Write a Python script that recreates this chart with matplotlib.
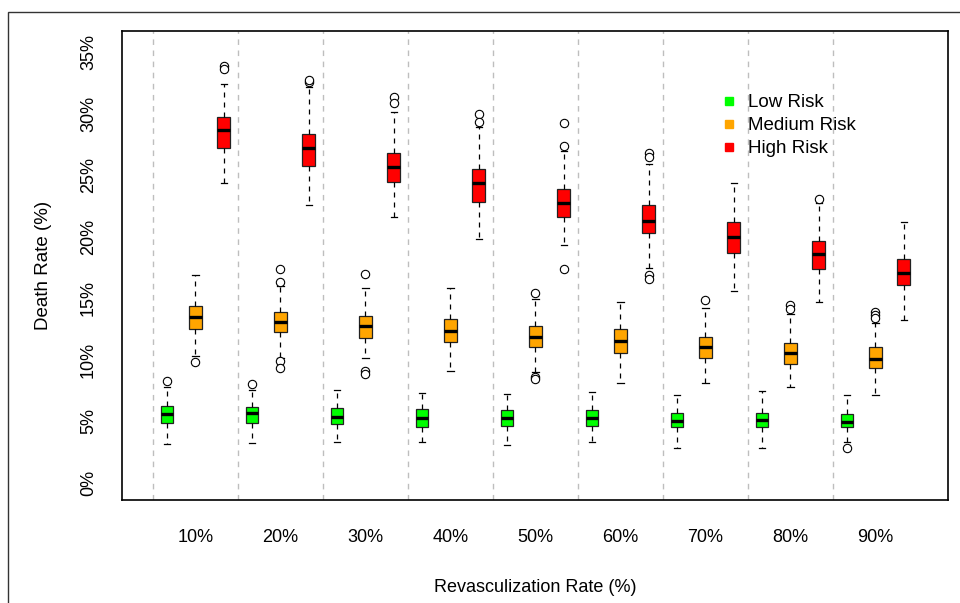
import matplotlib
matplotlib.use("Agg")
import matplotlib.pyplot as plt
from matplotlib.lines import Line2D
from matplotlib.patches import Rectangle

plt.rcParams['font.family'] = ['Liberation Sans', 'DejaVu Sans']

rates = ['10%', '20%', '30%', '40%', '50%', '60%', '70%', '80%', '90%']
risk_names = ['Low Risk', 'Medium Risk', 'High Risk']
risk_colors = ['#00FF00', '#FFA500', '#FF0000']

# Death rate (%) box statistics per revascularization rate
low_q1 = [4.90, 4.90, 4.79, 4.57, 4.63, 4.63, 4.52, 4.52, 4.52]
low_med = [5.63, 5.66, 5.39, 5.25, 5.25, 5.25, 5.06, 5.12, 4.98]
low_q3 = [6.25, 6.20, 6.07, 5.99, 5.93, 5.93, 5.71, 5.71, 5.60]
low_lo = [3.14, 3.22, 3.35, 3.35, 3.09, 3.35, 2.82, 2.82, 3.30]
low_hi = [7.83, 7.55, 7.55, 7.29, 7.23, 7.42, 7.15, 7.47, 7.15]
low_out = [[8.29], [8.04], [], [], [], [], [], [], [2.82]]

med_q1 = [12.53, 12.24, 11.75, 11.48, 11.07, 10.53, 10.13, 9.67, 9.37]
med_med = [13.51, 13.10, 12.75, 12.37, 11.83, 11.56, 11.02, 10.59, 10.05]
med_q3 = [14.38, 13.90, 13.57, 13.30, 12.75, 12.48, 11.83, 11.40, 11.02]
med_lo = [10.35, 10.15, 10.13, 9.12, 9.04, 8.15, 8.15, 7.82, 7.15]
med_hi = [16.90, 16.00, 15.81, 15.81, 14.92, 14.68, 14.19, 13.70, 12.97]
med_out = [[9.85], [17.36, 16.30, 9.93, 9.32], [16.95, 9.12, 8.85], [],
           [15.41, 8.63, 8.42], [], [14.86], [14.46, 14.10],
           [13.92, 13.65, 13.38]]

high_q1 = [27.18, 25.75, 24.48, 22.85, 21.58, 20.28, 18.71, 17.38, 16.08]
high_med = [28.68, 27.20, 25.70, 24.35, 22.72, 21.30, 19.96, 18.57, 17.08]
high_q3 = [29.75, 28.38, 26.83, 25.48, 23.86, 22.58, 21.18, 19.68, 18.17]
high_lo = [24.35, 22.60, 21.63, 19.80, 19.33, 17.44, 15.62, 14.73, 13.24]
high_hi = [32.39, 32.20, 30.16, 28.95, 27.00, 25.90, 24.35, 22.72, 21.23]
high_out = [[33.85, 33.65], [32.55, 32.70], [31.33, 30.84], [29.97, 29.30],
            [29.27, 27.40, 17.36], [26.78, 26.46, 16.90, 16.60], [], [23.07], []]

risk_data = [
    (low_q1, low_med, low_q3, low_lo, low_hi, low_out),
    (med_q1, med_med, med_q3, med_lo, med_hi, med_out),
    (high_q1, high_med, high_q3, high_lo, high_hi, high_out),
]

fig = plt.figure(figsize=(9.6, 6.03), dpi=100)
ax = fig.add_axes([122 / 960, 1 - 500 / 603, 826 / 960, 469 / 603])

# frame around the whole figure
fig.patches.append(Rectangle((8 / 960, -0.1), 1.2, 1 - 12 / 603 + 0.1,
                             transform=fig.transFigure, fill=False,
                             edgecolor='#333333', linewidth=1.0))

# dashed separators between rate groups
for g in range(len(rates)):
    ax.axvline(3 * g + 0.5, color='#BEBEBE', linestyle=(0, (4, 4)),
               linewidth=1.0, zorder=0)

for k, (q1, md, q3, lo, hi, out) in enumerate(risk_data):
    stats = []
    for g in range(len(rates)):
        stats.append(dict(q1=q1[g], med=md[g], q3=q3[g],
                          whislo=lo[g], whishi=hi[g], fliers=out[g]))
    positions = [3 * g + k + 1 for g in range(len(rates))]
    ax.bxp(stats, positions=positions, widths=0.45, capwidths=0.22,
           patch_artist=True, showfliers=True,
           boxprops=dict(facecolor=risk_colors[k], edgecolor='#222222',
                         linewidth=0.9),
           medianprops=dict(color='black', linewidth=2.4),
           whiskerprops=dict(color='black', linewidth=0.9,
                             linestyle=(0, (4, 4))),
           capprops=dict(color='black', linewidth=0.9),
           flierprops=dict(marker='o', markerfacecolor='white',
                           markeredgecolor='black', markersize=6,
                           markeredgewidth=0.8))

ax.set_xlim(-0.59, 28.56)
ax.set_ylim(-1.38, 36.71)

ax.set_xticks([3 * g + 2 for g in range(len(rates))])
ax.set_xticklabels(rates, fontsize=13)
yt = [0, 5, 10, 15, 20, 25, 30, 35]
ax.set_yticks(yt)
ax.set_yticklabels([f'{v}%' for v in yt], fontsize=13, rotation=90,
                   va='center')
ax.tick_params(axis='x', length=0, pad=21)
ax.tick_params(axis='y', length=0, pad=18)

for s in ax.spines.values():
    s.set_linewidth(1.2)
    s.set_color('black')

ax.set_xlabel('Revasculization Rate (%)', fontsize=13, labelpad=24)
ax.set_ylabel('Death Rate (%)', fontsize=13.5, labelpad=20)

handles = [Line2D([], [], linestyle='none', marker='s', markersize=6,
                  markerfacecolor=c, markeredgecolor=c) for c in risk_colors]
ax.legend(handles, risk_names, loc='upper left',
          bbox_to_anchor=(0.724, 0.865), frameon=False, fontsize=13.5,
          handlelength=1.0, handletextpad=0.5, labelspacing=0.31,
          borderpad=0, borderaxespad=0)

fig.savefig('out.png', dpi=100)
